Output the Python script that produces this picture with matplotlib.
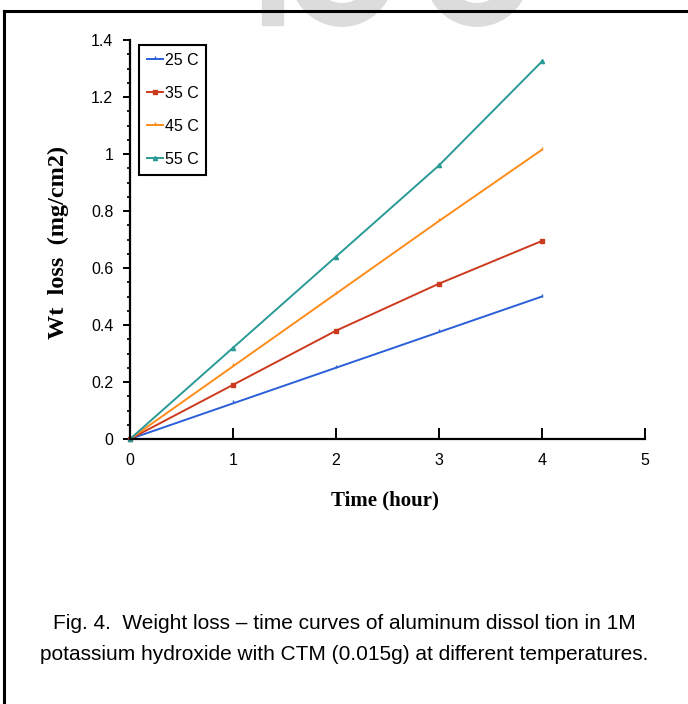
import numpy as np, matplotlib
matplotlib.use('Agg')
import matplotlib.pyplot as plt
from matplotlib.patches import Rectangle, Wedge
from matplotlib.lines import Line2D

# data
time_h = [0, 1, 2, 3, 4]
labels = ['25 C', '35 C', '45 C', '55 C']
wt_25 = [0, 0.125, 0.25, 0.375, 0.50]
wt_35 = [0, 0.19, 0.38, 0.545, 0.695]
wt_45 = [0, 0.255, 0.51, 0.765, 1.015]
wt_55 = [0, 0.32, 0.64, 0.96, 1.325]
colors = ['#2b5fd8', '#cc3a1e', '#ff8c1a', '#2a9a96']
markers = [2, 's', 2, '^']
msizes = [2.5, 3.5, 2, 3]

caption = ("Fig. 4.  Weight loss \u2013 time curves of aluminum dissol tion in 1M\n"
           "potassium hydroxide with CTM (0.015g) at different temperatures.")

W, H = 688, 704
fig = plt.figure(figsize=(W/100, H/100), dpi=100)
fig.patch.set_facecolor('white')

# faint watermark letters cut off at top
wm = '#dcdcdc'
fig.patches.append(Rectangle((262/W, 1-25/H), 21/W, 25/H, transform=fig.transFigure, color=wm, zorder=0))
for cx, r_out, r_in in [(342, 52, 30), (477, 52, 30)]:
    fig.patches.append(Wedge((cx/W, 1+27/H), r_out/W, 180, 360, width=(r_out-r_in)/W,
                             transform=fig.transFigure, color=wm, zorder=0))

# page frame
fig.lines.append(Line2D([4/W, 4/W], [0, 1-11/H], transform=fig.transFigure, color='black', lw=2.2))
fig.lines.append(Line2D([4/W, 1], [1-11/H, 1-11/H], transform=fig.transFigure, color='black', lw=2.2))

x0, x1, y0, y1 = 130, 645, 439, 40
ax = fig.add_axes([x0/W, 1-y0/H, (x1-x0)/W, (y0-y1)/H])
series = [wt_25, wt_35, wt_45, wt_55]
for s, lab, c, m, ms in zip(series, labels, colors, markers, msizes):
    ax.plot(time_h, s, color=c, lw=1.4, marker=m, ms=ms, mew=1.0, label=lab, clip_on=False)

ax.set_xlim(0, 5)
ax.set_ylim(0, 1.4)
ax.set_xticks([0, 1, 2, 3, 4, 5])
ax.set_xticklabels(['0', '1', '2', '3', '4', '5'])
ax.set_yticks(np.arange(0, 1.41, 0.2))
ax.set_yticklabels(['0', '0.2', '0.4', '0.6', '0.8', '1', '1.2', '1.4'])
ax.set_yticks(np.arange(0, 1.41, 0.05), minor=True)
for sp in ['top', 'right']:
    ax.spines[sp].set_visible(False)
for sp in ['left', 'bottom']:
    ax.spines[sp].set_linewidth(1.6)
ax.tick_params(axis='x', direction='in', length=8, width=1.4, pad=10)
ax.tick_params(axis='y', which='major', direction='out', length=5, width=1.4, pad=7)
ax.tick_params(axis='y', which='minor', direction='out', length=2.5, width=1.2)
for t in ax.get_xticklabels() + ax.get_yticklabels():
    t.set_fontfamily('Liberation Sans')
    t.set_fontsize(11.5)

ax.set_xlabel('Time (hour)', fontfamily='Liberation Serif', fontweight='bold', fontsize=15)
ax.xaxis.set_label_coords((385-x0)/(x1-x0), -(490-y0)/(y0-y1))
ax.set_ylabel('Wt  loss  (mg/cm2)', fontfamily='Liberation Serif', fontweight='bold', fontsize=17.5)
ax.yaxis.set_label_coords(-(130-69)/(x1-x0), (y0-242)/(y0-y1))

leg = ax.legend(loc='upper left', bbox_to_anchor=((139-x0)/(x1-x0), (y0-45)/(y0-y1)),
                fancybox=False, edgecolor='black', framealpha=1, handlelength=1.0,
                handletextpad=0.1, labelspacing=1.12, borderpad=0.5, borderaxespad=0,
                prop={'family': 'Liberation Sans', 'size': 11.5})
leg.get_frame().set_linewidth(1.5)

fig.text(344/W, 1-639/H, caption, ha='center', va='center', fontsize=15,
         fontfamily='Liberation Sans', linespacing=1.8)

fig.savefig('out.png', dpi=100)
